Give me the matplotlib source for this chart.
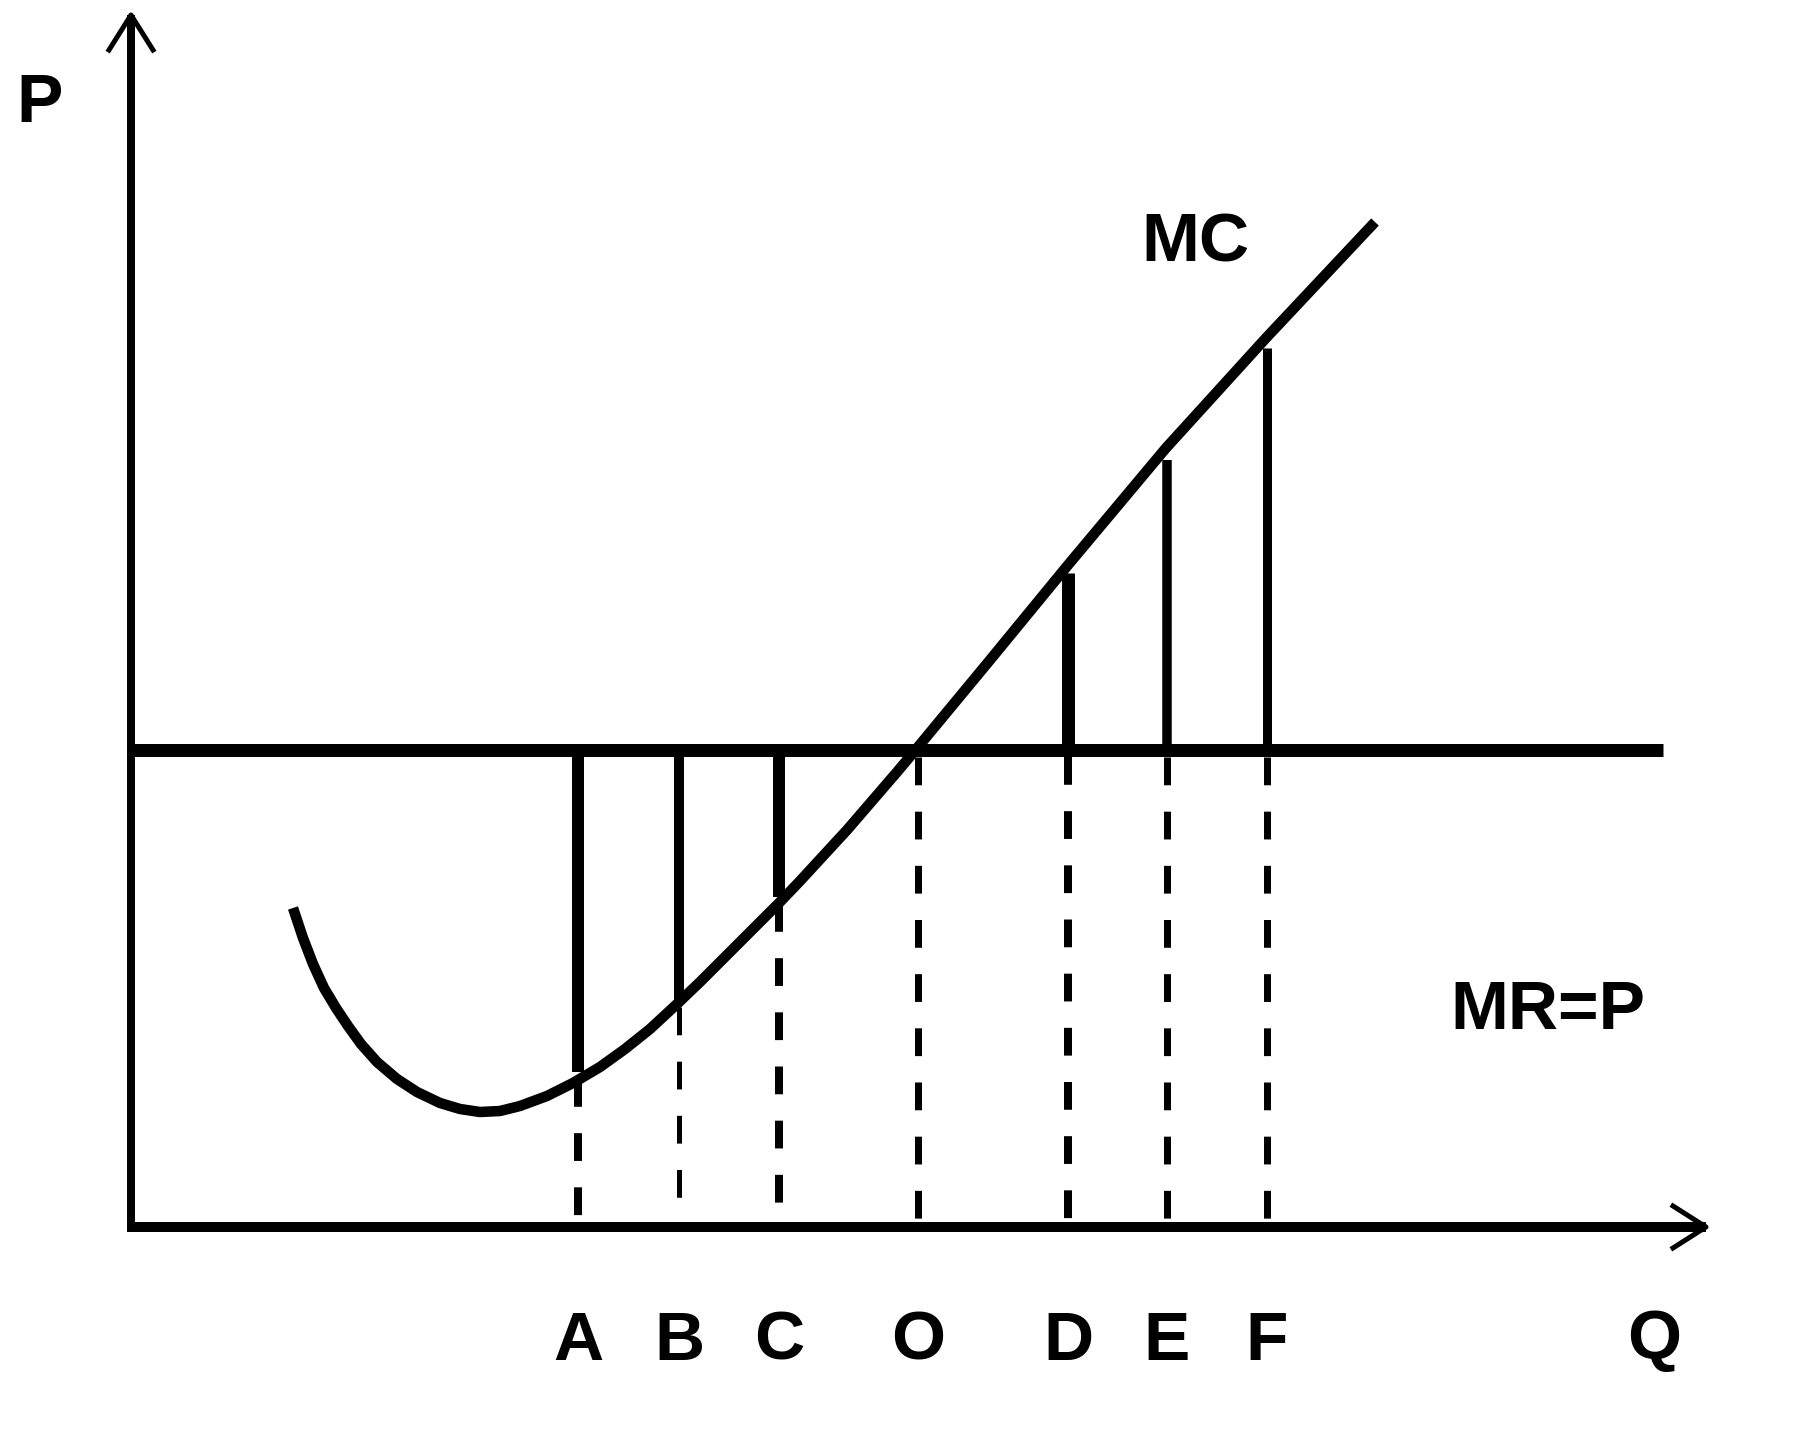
import numpy as np
import matplotlib
matplotlib.use('Agg')
import matplotlib.pyplot as plt

# ─── Data (arbitrary diagram units: Q along x, P along y) ───
mc_q = [1.62, 1.72, 1.82, 1.93, 2.05, 2.17, 2.30, 2.46, 2.66, 2.86, 3.09,
        3.29, 3.49, 3.69, 3.89, 4.16, 4.42, 4.69, 4.94, 5.19, 5.46, 5.69,
        5.96, 6.19, 6.48, 6.69, 7.16, 7.66, 7.87, 8.59, 9.37, 10.35, 11.35,
        12.44]
mc_p = [3.19, 2.89, 2.63, 2.39, 2.19, 2.01, 1.83, 1.65, 1.48, 1.35, 1.24,
        1.18, 1.15, 1.16, 1.21, 1.31, 1.44, 1.60, 1.78, 1.98, 2.23, 2.45,
        2.72, 2.95, 3.24, 3.46, 3.97, 4.55, 4.80, 5.67, 6.62, 7.79, 8.89,
        10.05]

mr_price = 4.77
mr_q_end = 15.32

q_labels = ['A', 'B', 'C', 'O', 'D', 'E', 'F']
q_points = [4.47, 5.48, 6.48, 7.87, 9.37, 10.36, 11.36]
mc_at_q = [1.55, 2.27, 3.30, 4.77, 6.54, 7.67, 8.79]

q_axis_end = 15.75
p_axis_end = 12.12

# line widths in pixels, per quantity mark (solid part, dashed part)
PX = 0.72   # px -> pt at dpi 100
solid_w = [12, 10, 12, 0, 13, 9.5, 9]
dash_w = [8, 5, 8, 7, 8, 7, 7]

plt.rcParams['lines.scale_dashes'] = False
FONT = ['Liberation Sans', 'DejaVu Sans']

fig = plt.figure(figsize=(17.93, 14.39), dpi=100)
ax = fig.add_axes([0, 0, 1, 1])
ax.set_xlim(-1.31, 16.62)
ax.set_ylim(-2.12, 12.27)
ax.axis('off')

# axes with open arrowheads
ax.plot([0, 0], [-0.05, p_axis_end], color='black', lw=8 * PX, solid_capstyle='butt')
ax.plot([-0.04, q_axis_end], [0, 0], color='black', lw=10 * PX, solid_capstyle='butt')
ax.plot([-0.22, 0, 0.22], [p_axis_end - 0.35, p_axis_end, p_axis_end - 0.35],
        color='black', lw=5 * PX)
ax.plot([q_axis_end - 0.33, q_axis_end, q_axis_end - 0.33], [0.21, 0, -0.21],
        color='black', lw=5 * PX)

# MR = P line
ax.plot([0, mr_q_end], [mr_price, mr_price], color='black', lw=13 * PX,
        solid_capstyle='butt')

# MC curve
ax.plot(mc_q, mc_p, color='black', lw=10.5 * PX, solid_capstyle='butt',
        solid_joinstyle='round')

# verticals: solid between MR and MC, dashed down to the Q axis
for q, mc, sw, dw in zip(q_points, mc_at_q, solid_w, dash_w):
    if sw > 0:
        ax.plot([q, q], [mr_price, mc], color='black', lw=sw * PX,
                solid_capstyle='butt')
    top = min(mr_price, mc)
    ax.plot([q, q], [top - 0.07, 0.05], color='black', lw=dw * PX,
            linestyle=(0, (20, 19)))

# labels
txt = dict(fontsize=50, fontweight='bold', family=FONT, color='black',
           ha='center', va='baseline')
for q, lab in zip(q_points, q_labels):
    ax.text(q, -1.33, lab, **txt)
ax.text(15.23, -1.31, 'Q', **txt)
ax.text(-0.91, 11.05, 'P', **txt)
ax.text(10.64, 9.66, 'MC', **txt)
ax.text(14.17, 1.98, 'MR=P', **txt)

fig.savefig('out.png', dpi=100, facecolor='white')
